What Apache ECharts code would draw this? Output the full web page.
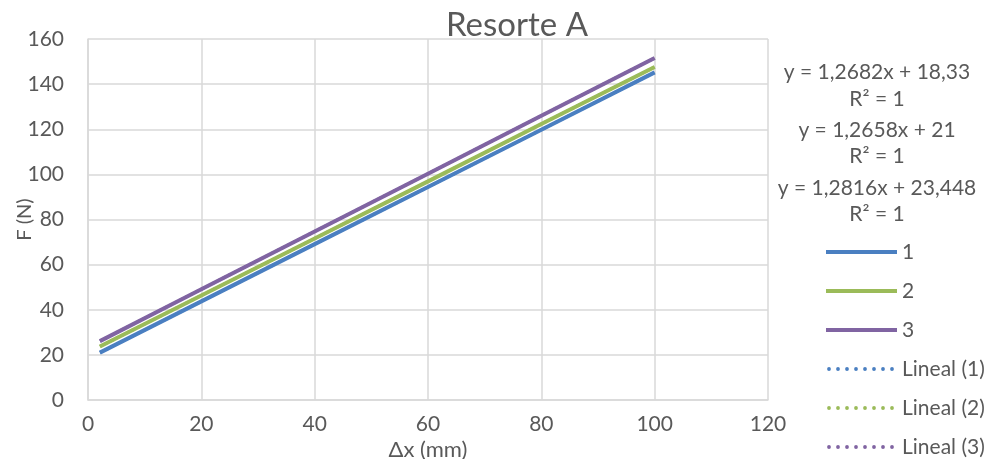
<!DOCTYPE html>
<html><head><meta charset="utf-8">
<script src="https://cdn.jsdelivr.net/npm/echarts@6/dist/echarts.min.js"></script>
<style>html,body{margin:0;padding:0;background:#fff}#c{width:994px;height:459px}</style>
</head><body><div id="c"></div>
<script>
const xValues = [2.1, 20, 40, 60, 80, 100];
const s1 = [21.0, 43.7, 69.1, 94.4, 119.8, 145.2];
const s2 = [23.7, 46.3, 71.6, 96.9, 122.3, 147.6];
const s3 = [26.1, 49.1, 74.7, 100.3, 126.0, 151.6];
const seriesNames = ['1', '2', '3'];
const trendNames = ['Lineal (1)', 'Lineal (2)', 'Lineal (3)'];
const equations = ['y = 1,2682x + 18,33', 'R² = 1', 'y = 1,2658x + 21', 'R² = 1', 'y = 1,2816x + 23,448', 'R² = 1'];
const xTicks = [0, 20, 40, 60, 80, 100, 120];
const yTicks = [0, 20, 40, 60, 80, 100, 120, 140, 160];
const colors = ['#4a7fc1', '#9bbb59', '#8064a2'];
const FONT = 'Lato';
const TXT = '#595959';

const all = [s1, s2, s3];
const pairs = a => xValues.map((x, i) => [x, a[i]]);
const series = [];
all.forEach((a, i) => series.push({
  name: seriesNames[i], type: 'line', data: pairs(a), showSymbol: false, symbol: 'none',
  lineStyle: { color: colors[i], width: 4 }, itemStyle: { color: colors[i] }, z: 2
}));
all.forEach((a, i) => series.push({
  name: trendNames[i], type: 'line', data: pairs(a), showSymbol: false, symbol: 'none',
  lineStyle: { color: colors[i], width: 3, type: 'dotted' }, itemStyle: { color: colors[i] }, z: 1
}));

// dotted legend icon: a row of small dots, with a bounding box of 71 x 4
let dotPath = 'M0,0 L0.01,0 L0,0.01 Z M71,4 L70.99,4 L71,3.99 Z ';
for (let k = 0; k < 8; k++) {
  const cx = 3 + k * 9, r = 1.9;
  dotPath += `M${cx - r},2 a${r},${r} 0 1,0 ${2 * r},0 a${r},${r} 0 1,0 ${-2 * r},0 Z `;
}
const legendData = seriesNames.map(n => ({ name: n }))
  .concat(trendNames.map((n, i) => ({ name: n, icon: 'path://' + dotPath,
    itemStyle: { opacity: 1, color: colors[i] } })));

const eqY = [72, 99, 130, 156, 188, 214];
const chart = echarts.init(document.getElementById('c'));
chart.setOption({
  animation: false,
  textStyle: { fontFamily: FONT },
  title: { text: 'Resorte A', left: 512, top: 4, textAlign: 'center',
    textStyle: { fontFamily: FONT, fontSize: 33, fontWeight: 'normal', color: TXT } },
  grid: { left: 88, right: 226, top: 39, bottom: 59, containLabel: false, outerBoundsMode: 'none' },
  xAxis: {
    type: 'value', min: xTicks[0], max: xTicks[xTicks.length - 1], interval: 20,
    name: 'Δx (mm)', nameLocation: 'middle', nameGap: 39, nameMoveOverlap: false,
    nameTextStyle: { fontFamily: FONT, fontSize: 22, color: TXT },
    axisLine: { show: true, lineStyle: { color: '#d9d9d9', width: 1.5 } },
    axisTick: { show: false },
    axisLabel: { fontFamily: FONT, fontSize: 21, color: TXT, margin: 14 },
    splitLine: { show: true, lineStyle: { color: '#d9d9d9', width: 1.5 } }
  },
  yAxis: {
    type: 'value', min: yTicks[0], max: yTicks[yTicks.length - 1], interval: 20,
    name: 'F (N)', nameLocation: 'middle', nameGap: 53, nameRotate: 90, nameMoveOverlap: false,
    nameTextStyle: { fontFamily: FONT, fontSize: 20, color: TXT },
    axisLine: { show: true, lineStyle: { color: '#d9d9d9', width: 1.5 } },
    axisTick: { show: false },
    axisLabel: { fontFamily: FONT, fontSize: 21, color: TXT, margin: 24 },
    splitLine: { show: true, lineStyle: { color: '#d9d9d9', width: 1.5 } }
  },
  legend: {
    orient: 'vertical', left: 824, top: 241, itemWidth: 71, itemHeight: 4, itemGap: 17,
    padding: 0,
    data: legendData,
    itemStyle: { opacity: 0 },
    lineStyle: { width: 4 },
    textStyle: { fontFamily: FONT, fontSize: 21, color: TXT, lineHeight: 22 }
  },
  graphic: equations.map((t, i) => ({
    type: 'text', x: 877, y: eqY[i],
    style: { text: t, fontFamily: FONT, fontSize: 21, fill: TXT, textAlign: 'center', textVerticalAlign: 'middle' }
  })),
  series: series
});
</script></body></html>
